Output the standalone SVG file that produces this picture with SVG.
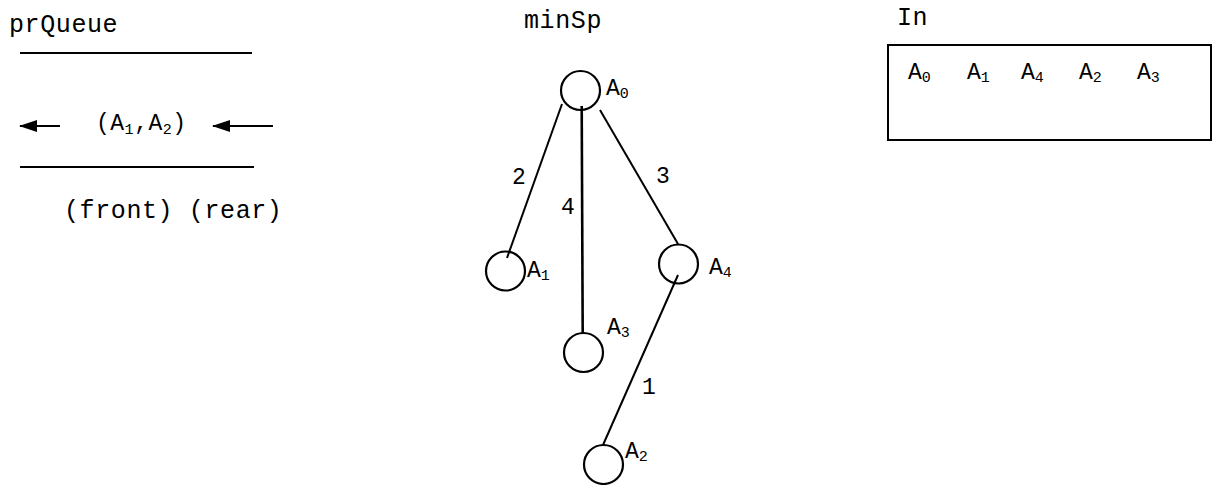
<svg xmlns="http://www.w3.org/2000/svg" width="1219" height="485" viewBox="0 0 1219 485">
<style>
.t{font-family:"Liberation Mono","DejaVu Sans Mono",monospace;fill:#000}
.h{font-size:25px;letter-spacing:0.6px}
.a{font-size:23px}
.s{font-size:15px}
.n{font-size:23px}
.ln{stroke:#000;stroke-width:2;fill:none}
.c{stroke:#000;stroke-width:2.2;fill:#fff}
</style>
<defs>
<marker id="ah" markerWidth="18" markerHeight="12" refX="17" refY="6" orient="auto" markerUnits="userSpaceOnUse">
<path d="M0,0 L18,6 L0,12 Z" fill="#000"/>
</marker>
</defs>
<rect width="1219" height="485" fill="#fff"/>

<g id="queue">
<text class="t h" x="9" y="32">prQueue</text>
<line class="ln" x1="20" y1="53" x2="252" y2="53"/>
<line class="ln" x1="20" y1="167" x2="254" y2="167"/>
<text class="t a" x="96" y="130" style="letter-spacing:0.5px">(A<tspan class="s" dy="4">1</tspan><tspan dy="-4">,A</tspan><tspan class="s" dy="4">2</tspan><tspan dy="-4">)</tspan></text>
<text class="t h" x="64" y="218">(front) (rear)</text>
</g>

<g id="connectors">
<line class="ln" x1="60" y1="126" x2="20" y2="126" marker-end="url(#ah)"/>
<line class="ln" x1="273" y1="126" x2="213" y2="126" marker-end="url(#ah)"/>
<line class="ln" x1="562" y1="104" x2="507" y2="258"/>
<line class="ln" x1="581.7" y1="106" x2="582.7" y2="333" style="stroke-width:2.6"/>
<line class="ln" x1="600" y1="110" x2="678" y2="244"/>
<line class="ln" x1="678" y1="275" x2="603" y2="445"/>
<text class="t n" x="512" y="184">2</text>
<text class="t n" x="561" y="214">4</text>
<text class="t n" x="656" y="183">3</text>
<text class="t n" x="642" y="394">1</text>
</g>

<text class="t h" x="524" y="28">minSp</text>

<g id="A0">
<circle class="c" cx="580.5" cy="90.5" r="19.5" style="fill:none"/>
<text class="t a" x="606" y="95">A<tspan class="s" dy="3">0</tspan></text>
</g>
<g id="A1">
<circle class="c" cx="505.5" cy="271" r="19.5" style="fill:none"/>
<text class="t a" x="527" y="277">A<tspan class="s" dy="3">1</tspan></text>
</g>
<g id="A3">
<circle class="c" cx="583.5" cy="352.5" r="19.5"/>
<text class="t a" x="607" y="334">A<tspan class="s" dy="3">3</tspan></text>
</g>
<g id="A4">
<circle class="c" cx="678.5" cy="264" r="19.5" style="fill:none"/>
<text class="t a" x="709" y="274">A<tspan class="s" dy="3">4</tspan></text>
</g>
<g id="A2">
<circle class="c" cx="603.5" cy="464.5" r="19.5"/>
<text class="t a" x="625" y="458">A<tspan class="s" dy="3">2</tspan></text>
</g>

<g id="In">
<text class="t h" x="897" y="25">In</text>
<rect x="888" y="45" width="323" height="95" class="ln"/>
<text class="t a" x="908" y="79">A<tspan class="s" dy="3">0</tspan></text>
<text class="t a" x="967" y="79">A<tspan class="s" dy="3">1</tspan></text>
<text class="t a" x="1021" y="79">A<tspan class="s" dy="3">4</tspan></text>
<text class="t a" x="1079" y="79">A<tspan class="s" dy="3">2</tspan></text>
<text class="t a" x="1137" y="79">A<tspan class="s" dy="3">3</tspan></text>
</g>
</svg>
